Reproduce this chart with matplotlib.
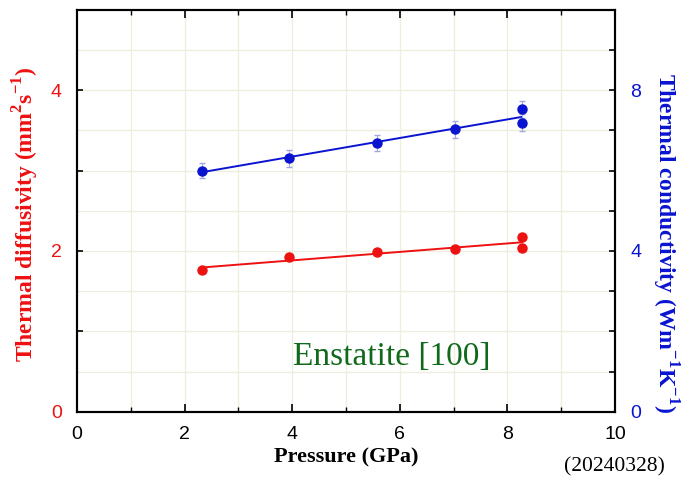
import numpy as np
import matplotlib
matplotlib.use('Agg')
import matplotlib.pyplot as plt
from matplotlib.ticker import MultipleLocator

# Pressão (GPa) e medidas - Enstatite [100]
pressao = [2.32, 3.94, 5.58, 7.02, 8.27, 8.27]
difusividade = [1.76, 1.92, 1.99, 2.02, 2.17, 2.04]          # mm2/s
erro_dif = [0.02, 0.02, 0.03, 0.02, 0.03, 0.03]
condutividade = [6.00, 6.30, 6.68, 7.02, 7.52, 7.19]         # W/m/K
erro_cond = [0.18, 0.20, 0.20, 0.20, 0.22, 0.22]

serif = ['Liberation Serif', 'DejaVu Serif']
sans = ['Liberation Sans', 'DejaVu Sans']
plt.rcParams['mathtext.fontset'] = 'custom'
plt.rcParams['mathtext.rm'] = 'Liberation Serif:bold'

fig = plt.figure(figsize=(6.81, 4.79), dpi=100)
ax = fig.add_axes([0.113, 0.140, 0.790, 0.840])
ax2 = ax.twinx()

grid_cor = '#eeeedc'
for xv in range(1, 10):
    ax.axvline(xv, color=grid_cor, lw=0.9, zorder=0)
for yv in np.arange(0.5, 5, 0.5):
    ax.axhline(yv, color=grid_cor, lw=0.9, zorder=0)

# difusividade (eixo esquerdo)
ax.errorbar(pressao, difusividade, yerr=erro_dif, fmt='o', color='#ee1111',
            ms=6.5, ecolor='#f7b5b5', elinewidth=0.7, capsize=0, zorder=3)
a, b = np.polyfit(pressao, difusividade, 1)
xs = np.array([min(pressao), max(pressao)])
ax.plot(xs, a * xs + b, color='#ee1111', lw=1.4, zorder=2)

# condutividade (eixo direito)
ax2.errorbar(pressao, condutividade, yerr=erro_cond, fmt='o', color='#0a14d0',
             ms=6.5, ecolor='#a3a8de', elinewidth=0.8, capsize=2, zorder=3)
c, d = np.polyfit(pressao, condutividade, 1)
ax2.plot(xs, c * xs + d, color='#0a14d0', lw=1.4, zorder=2)

ax.set_xlim(0, 10)
ax.set_ylim(0, 5)
ax2.set_ylim(0, 10)

ax.xaxis.set_major_locator(MultipleLocator(2))
ax.xaxis.set_minor_locator(MultipleLocator(1))
ax.yaxis.set_major_locator(MultipleLocator(2))
ax.yaxis.set_minor_locator(MultipleLocator(1))
ax2.yaxis.set_major_locator(MultipleLocator(4))
ax2.yaxis.set_minor_locator(MultipleLocator(1))

ax.tick_params(axis='x', which='both', direction='in', top=True, labelsize=14, pad=10)
ax.tick_params(axis='x', which='major', length=6, width=1.2)
ax.tick_params(axis='x', which='minor', length=3.5, width=1)
ax.tick_params(axis='y', which='both', direction='in', right=False, labelsize=14,
               labelcolor='#ee1111', length=4, width=1.2, pad=11)
ax2.tick_params(axis='y', which='both', direction='in', labelsize=14,
                labelcolor='#0a14d0', length=4, width=1.2, pad=11)

for lab in ax.get_xticklabels() + ax.get_yticklabels() + ax2.get_yticklabels():
    lab.set_family(sans)

for s in ax.spines.values():
    s.set_linewidth(1.5)
for s in ax2.spines.values():
    s.set_linewidth(1.5)

ax.set_xlabel('Pressure (GPa)', fontsize=16, fontweight='bold', family=serif, labelpad=3)
ax.set_ylabel('Thermal diffusivity (mm$^{2}$s$^{\\mathregular{-1}}$)', fontsize=17,
              fontweight='bold', family=serif, color='#ee1111', labelpad=7)
ax2.set_ylabel('Thermal conductivity (Wm$^{\\mathregular{-1}}$K$^{\\mathregular{-1}}$)',
               fontsize=17, fontweight='bold', family=serif, color='#0a14d0',
               rotation=-90, labelpad=28)
ax.yaxis.label.set_y(0.49)
ax2.yaxis.label.set_y(0.42)

ax.text(5.85, 0.68, 'Enstatite [100]', fontsize=24, family=serif, color='#116a1c',
        ha='center', va='center', zorder=4)
fig.text(0.976, 0.006, '(20240328)', fontsize=15.5, family=serif, ha='right', va='bottom')

fig.savefig('out.png', dpi=100)
